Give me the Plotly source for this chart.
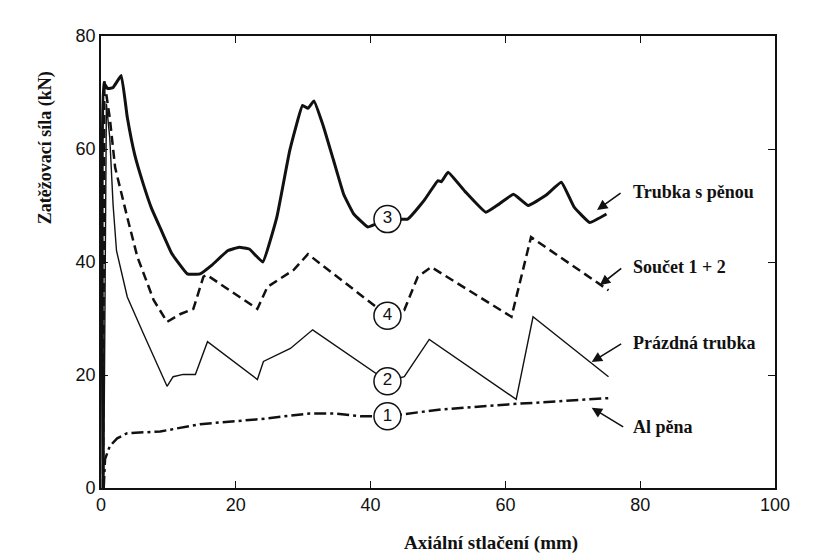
import numpy as np
import plotly.graph_objects as go

# ---- data ----
foam_tube_x = [0.3, 0.4, 1.0, 1.8, 3.0, 3.9, 5.0, 6.3, 7.5, 8.8, 10.5, 12.8, 14.7, 16.5, 18.8, 20.5,
               22.0, 24.0, 26.1, 28.0, 29.9, 30.7, 31.6, 33.0, 34.5, 36.0, 37.5, 39.6, 42.5, 45.5,
               48.0, 50.0, 50.5, 51.5, 54.0, 57.1, 59.0, 61.2, 63.4, 66.0, 68.3, 70.2, 72.5, 75.0]
foam_tube_y = [0, 71.7, 70.7, 70.9, 73.0, 65.6, 59.0, 53.7, 49.5, 46.0, 41.5, 37.9, 37.9, 39.5, 42.0, 42.6,
               42.3, 40.0, 48.0, 59.7, 67.7, 67.2, 68.5, 64.0, 58.0, 52.0, 48.5, 46.2, 47.6, 47.6,
               51.0, 54.4, 54.2, 55.9, 52.5, 48.8, 50.2, 52.0, 50.0, 51.8, 54.1, 49.7, 47.0, 48.5]

sum_x = [0.3, 0.5, 1.3, 2.1, 3.9, 5.4, 7.8, 9.8, 11.8, 13.7, 15.2, 15.7, 23.2, 24.7, 28.6, 30.7,
         42.5, 45.0, 47.0, 49.0, 60.9, 63.8, 75.3]
sum_y = [0, 72.0, 65.5, 56.7, 47.9, 40.9, 33.3, 29.4, 30.8, 31.7, 37.4, 37.7, 31.7, 35.6, 38.6, 41.4,
         30.5, 31.5, 37.4, 39.1, 30.3, 44.4, 35.0]

empty_x = [0.4, 0.8, 1.3, 1.8, 2.3, 3.9, 6.3, 9.8, 10.7, 12.2, 14.0, 15.8, 23.2, 24.1, 28.1, 31.4,
           42.5, 45.0, 48.7, 61.6, 64.1, 75.3]
empty_y = [0, 68.0, 62.0, 50.0, 42.0, 33.8, 27.3, 18.0, 19.7, 20.1, 20.1, 25.9, 19.2, 22.4, 24.7, 28.0,
           18.9, 19.7, 26.3, 15.7, 30.3, 19.7]

alfoam_x = [0.4, 0.6, 1.3, 2.4, 3.9, 8.8, 14.7, 23.7, 31.0, 34.5, 38.5, 42.5, 50.4, 60.4, 75.3]
alfoam_y = [0, 5.1, 7.4, 8.8, 9.7, 10.0, 11.3, 12.2, 13.2, 13.2, 12.7, 12.7, 13.9, 14.8, 15.9]

series_labels = ["Trubka s pěnou", "Součet 1 + 2", "Prázdná trubka", "Al pěna"]
circle_numbers = ["3", "4", "2", "1"]
circle_at_x = 42.5
x_ticks = [0, 20, 40, 60, 80, 100]
y_ticks = [0, 20, 40, 60, 80]

fig = go.Figure()
serif = "Liberation Serif, Times New Roman, serif"
sans = "Liberation Sans, Arial, sans-serif"

fig.add_trace(go.Scatter(x=foam_tube_x, y=foam_tube_y, mode="lines",
                         line=dict(color="#111", width=3, shape="spline", smoothing=0.3)))
fig.add_trace(go.Scatter(x=sum_x, y=sum_y, mode="lines",
                         line=dict(color="#111", width=2.5, dash="9px,5px")))
fig.add_trace(go.Scatter(x=empty_x, y=empty_y, mode="lines",
                         line=dict(color="#111", width=1.4)))
fig.add_trace(go.Scatter(x=alfoam_x, y=alfoam_y, mode="lines",
                         line=dict(color="#111", width=2.5, dash="12px,4px,3px,4px")))

series = [(foam_tube_x, foam_tube_y), (sum_x, sum_y), (empty_x, empty_y), (alfoam_x, alfoam_y)]
cy = [float(np.interp(circle_at_x, sx, sy)) for sx, sy in series]
fig.add_trace(go.Scatter(x=[circle_at_x] * 4, y=cy, mode="markers+text", text=circle_numbers,
                         textposition="middle center",
                         textfont=dict(family=sans, size=17, color="#111"),
                         marker=dict(size=27, color="white", line=dict(color="#111", width=1.5))))

# labels with arrows
arrow_heads = [(73.6, 49.2, 25, -18), (74.0, 35.9, 23, -18), (72.8, 22.3, 31, -19), (72.8, 14.2, 33, 20)]
label_y = [52.4, 39.1, 25.7, 10.8]
for (hx, hy, ax, ay), lab, ly in zip(arrow_heads, series_labels, label_y):
    fig.add_annotation(x=hx, y=hy, ax=ax, ay=ay, text="", showarrow=True,
                       arrowhead=2, arrowsize=1.3, arrowwidth=1.6, arrowcolor="#111")
    fig.add_annotation(x=78.6, y=ly, text="<b>" + lab + "</b>", showarrow=False,
                       xanchor="left", yanchor="middle",
                       font=dict(family=serif, size=18, color="#111"))

fig.add_annotation(xref="paper", yref="paper", x=0.579, y=-0.122, xanchor="center", yanchor="middle",
                   text="<b>Axiální stlačení (mm)</b>",
                   showarrow=False, font=dict(family=serif, size=19, color="#111"))
fig.add_annotation(xref="paper", yref="paper", x=-0.083, y=0.752, xanchor="center", yanchor="middle",
                   text="<b>Zatěžovací síla (kN)</b>",
                   showarrow=False, textangle=-90, font=dict(family=serif, size=18, color="#111"))

axis_common = dict(showgrid=False, zeroline=False, showline=True, linecolor="#111", linewidth=1.6,
                   mirror="ticks", ticks="inside", ticklen=7, tickwidth=1.3, tickcolor="#111",
                   tickfont=dict(family=sans, size=18, color="#111"))
fig.update_xaxes(range=[0, 100], tickvals=x_ticks, **axis_common)
fig.update_yaxes(range=[0, 80], tickvals=y_ticks, **axis_common)

fig.update_layout(width=814, height=557, margin=dict(l=101, r=39, t=36, b=69),
                  paper_bgcolor="white", plot_bgcolor="white", showlegend=False)
fig.write_html("out.html")
